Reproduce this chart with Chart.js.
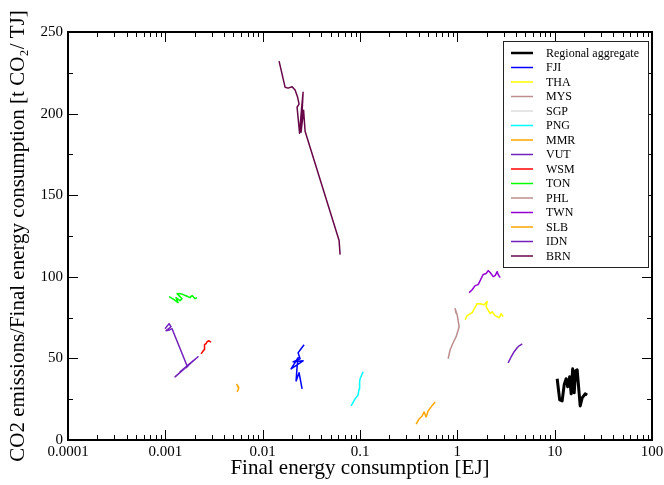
<!DOCTYPE html>
<html><head><meta charset="utf-8">
<script src="https://cdn.jsdelivr.net/npm/chart.js@4"></script>
<style>html,body{margin:0;padding:0;background:#fff}#wrap{width:664px;height:485px}</style>
</head><body><div id="wrap"><canvas id="c" width="664" height="485"></canvas></div>
<script>
// ---- tick labels ----
const xTickValues = [0.0001, 0.001, 0.01, 0.1, 1, 10, 100];
const xTickLabels = ['0.0001', '0.001', '0.01', '0.1', '1', '10', '100'];
const yTickValues = [0, 50, 100, 150, 200, 250];
const yTickLabels = ['0', '50', '100', '150', '200', '250'];

// ---- series names ----
const seriesNames = ['Regional aggregate', 'FJI', 'THA', 'MYS', 'SGP', 'PNG', 'MMR', 'VUT', 'WSM', 'TON', 'PHL', 'TWN', 'SLB', 'IDN', 'BRN'];

// ---- series values: final energy consumption [EJ] and CO2 intensity [t CO2/TJ] ----
const regionalEJ  = [10.61, 11.26, 11.94, 12.52, 13.12, 13.60, 14.26, 14.77, 15.31, 15.87, 16.44, 17.03, 18.29, 19.17, 20.58, 21.58];
const regionalCO2 = [37.5, 24.6, 24.0, 33.8, 37.5, 32.6, 38.7, 28.3, 43.6, 28.9, 42.4, 43.0, 20.9, 25.8, 28.3, 27.6];

const fjiEJ  = [0.02664, 0.02481, 0.02311, 0.02423, 0.02053, 0.02602, 0.01958, 0.02311, 0.02257, 0.02205, 0.02366, 0.02541];
const fjiCO2 = [58.4, 55.9, 53.4, 49.8, 47.9, 48.5, 43.6, 50.4, 44.8, 36.2, 41.2, 31.3];

const thaEJ  = [1.203, 1.261, 1.420, 1.598, 1.715, 1.886, 2.025, 1.977, 2.174, 2.279, 2.446, 2.690, 2.820, 2.956];
const thaCO2 = [73.7, 76.2, 78.0, 83.5, 83.5, 82.9, 84.8, 81.7, 77.4, 78.6, 76.2, 74.9, 77.4, 75.6];

const mysEJ  = [];
const mysCO2 = [];

const sgpEJ  = [];
const sgpCO2 = [];

const pngEJ  = [0.0810, 0.0890, 0.0956, 0.0979, 0.0991, 0.1002, 0.1076];
const pngCO2 = [20.9, 25.2, 27.6, 31.3, 35.6, 37.5, 41.8];

const mmrEJ  = [0.3773, 0.4049, 0.4347, 0.4558, 0.4779, 0.5010, 0.5379, 0.5913];
const mmrCO2 = [9.8, 12.9, 14.7, 17.2, 14.1, 17.8, 20.3, 23.3];

const vutEJ  = [0.000993, 0.001092, 0.001145, 0.001017, 0.001118, 0.001172, 0.001670, 0.002168, 0.001258, 0.001927, 0.001416, 0.001794, 0.001632];
const vutCO2 = [68.2, 71.3, 69.4, 67.0, 67.6, 68.2, 45.5, 51.0, 38.7, 48.5, 41.8, 46.7, 44.2];

const wsmEJ  = [0.002328, 0.002498, 0.002528, 0.002620, 0.002683, 0.002812, 0.002949];
const wsmCO2 = [52.8, 55.3, 58.4, 59.0, 60.2, 60.8, 59.9];

const tonEJ  = [0.001092, 0.001229, 0.001351, 0.001288, 0.001416, 0.001485, 0.001319, 0.001485, 0.001670, 0.001794, 0.001880, 0.002020, 0.002117];
const tonCO2 = [87.8, 86.0, 84.2, 87.2, 85.4, 86.6, 89.7, 89.4, 88.1, 87.2, 88.5, 86.6, 87.2];

const phlEJ  = [0.8043, 0.8433, 0.9054, 0.9721, 1.0435, 1.019, 0.9954, 0.9493, 0.9721];
const phlCO2 = [49.8, 55.3, 59.6, 63.3, 69.4, 73.1, 76.8, 80.5, 77.4];

const twnEJ  = [1.322, 1.420, 1.524, 1.636, 1.715, 1.842, 1.977, 2.073, 2.174, 2.334, 2.446, 2.565, 2.626, 2.754];
const twnCO2 = [90.3, 92.1, 94.6, 95.2, 97.7, 101.4, 102.0, 103.8, 102.6, 100.1, 100.7, 103.2, 101.4, 99.5];

const slbEJ  = [0.005392, 0.005587, 0.005653, 0.005456];
const slbCO2 = [34.4, 32.6, 31.3, 29.5];

const idnEJ  = [3.327, 3.573, 3.836, 4.117, 4.317, 4.526, 4.634];
const idnCO2 = [47.3, 51.0, 54.1, 56.5, 57.7, 58.4, 59.0];

const brnEJ  = [0.01474, 0.01699, 0.01825, 0.02006, 0.02153, 0.02284, 0.02366, 0.02257, 0.02394, 0.02511, 0.02602, 0.02481, 0.02633, 0.02728, 0.06098, 0.06245];
const brnCO2 = [232.2, 216.2, 215.6, 216.5, 214.4, 210.1, 205.8, 203.9, 188.0, 203.3, 213.1, 188.6, 202.1, 189.2, 122.2, 113.6];

// ---- styles ----
const seriesColors = ['#000000', '#0000ff', '#ffff00', '#bc8f8f', '#dcdcdc', '#00ffff', '#ffa500', '#7221bc', '#ff0000', '#00ff00', '#bc8f8f', '#9400d3', '#ffa500', '#7221bc', '#670748'];
const seriesWidths = [3, 1.5, 1.5, 1.5, 1.5, 1.5, 1.5, 1.5, 1.5, 1.5, 1.5, 1.5, 1.5, 1.5, 1.5];

const xs = [regionalEJ, fjiEJ, thaEJ, mysEJ, sgpEJ, pngEJ, mmrEJ, vutEJ, wsmEJ, tonEJ, phlEJ, twnEJ, slbEJ, idnEJ, brnEJ];
const ys = [regionalCO2, fjiCO2, thaCO2, mysCO2, sgpCO2, pngCO2, mmrCO2, vutCO2, wsmCO2, tonCO2, phlCO2, twnCO2, slbCO2, idnCO2, brnCO2];

const datasets = seriesNames.map((name, i) => ({
  label: name,
  data: xs[i].map((x, j) => ({ x: x, y: ys[i][j] })),
  borderColor: seriesColors[i],
  backgroundColor: seriesColors[i],
  borderWidth: seriesWidths[i],
  showLine: true,
  pointRadius: 0,
  tension: 0,
  fill: false,
  borderJoinStyle: 'round'
}));

const serif = "'Liberation Serif', 'Times New Roman', serif";

const framePlugin = {
  id: 'frameTicks',
  afterDraw(chart) {
    const ctx = chart.ctx;
    const ca = chart.chartArea;
    const xs_ = chart.scales.x, ys_ = chart.scales.y;
    ctx.save();
    ctx.strokeStyle = '#000';
    ctx.lineWidth = 1;
    ctx.beginPath();
    for (let e = -4; e <= 2; e++) {
      for (let m = 1; m <= 9; m++) {
        if (e === 2 && m > 1) break;
        const v = m * Math.pow(10, e);
        const px = Math.round(xs_.getPixelForValue(v)) + 0.5;
        const len = m === 1 ? 10 : 5;
        ctx.moveTo(px, ca.bottom); ctx.lineTo(px, ca.bottom - len);
        ctx.moveTo(px, ca.top); ctx.lineTo(px, ca.top + len);
      }
    }
    for (let v = 0; v <= 250; v += 25) {
      const py = Math.round(ys_.getPixelForValue(v)) + 0.5;
      const len = v % 50 === 0 ? 10 : 5;
      ctx.moveTo(ca.left, py); ctx.lineTo(ca.left + len, py);
      ctx.moveTo(ca.right, py); ctx.lineTo(ca.right - len, py);
    }
    ctx.stroke();
    ctx.lineWidth = 2;
    ctx.strokeRect(ca.left, ca.top, ca.right - ca.left, ca.bottom - ca.top);

    // legend box
    const bx = 503, by = 41, bw = 145, bh = 226;
    ctx.fillStyle = '#fff';
    ctx.fillRect(bx, by, bw, bh);
    ctx.lineWidth = 1;
    ctx.strokeStyle = '#222';
    ctx.strokeRect(bx + 0.5, by + 0.5, bw, bh);
    ctx.font = '12px ' + serif;
    ctx.textBaseline = 'middle';
    ctx.textAlign = 'left';
    chart.data.datasets.forEach((ds, i) => {
      const yy = 53 + i * 14.5;
      ctx.strokeStyle = ds.borderColor;
      ctx.lineWidth = i === 0 ? 2.5 : 1.5;
      ctx.beginPath();
      ctx.moveTo(511, yy); ctx.lineTo(533, yy);
      ctx.stroke();
      ctx.fillStyle = '#000';
      ctx.fillText(ds.label, 546, yy + 0.5);
    });
    ctx.restore();
  }
};

new Chart(document.getElementById('c'), {
  type: 'scatter',
  data: { datasets: datasets },
  plugins: [framePlugin],
  options: {
    responsive: false,
    animation: false,
    layout: { padding: { top: 32, right: 12, bottom: 0, left: 0 } },
    plugins: { legend: { display: false }, tooltip: { enabled: false } },
    scales: {
      x: {
        type: 'logarithmic',
        position: 'bottom',
        min: 0.0001, max: 100,
        grid: { display: false, drawTicks: false, tickLength: 0 },
        border: { display: false },
        afterBuildTicks: s => { s.ticks = xTickValues.map(v => ({ value: v })); },
        ticks: {
          autoSkip: false, maxRotation: 0, padding: 3, color: '#000',
          font: { family: serif, size: 15 },
          callback: v => { const i = xTickValues.findIndex(t => Math.abs(Math.log10(t) - Math.log10(v)) < 1e-6); return i >= 0 ? xTickLabels[i] : ''; }
        },
        title: { display: true, text: 'Final energy consumption [EJ]', color: '#000', font: { family: serif, size: 21 }, padding: { top: 0, bottom: 4 } },
        afterFit: s => { s.height = 45; s.paddingLeft = 0; s.paddingRight = 0; }
      },
      y: {
        type: 'linear',
        min: 0, max: 250,
        grid: { display: false, drawTicks: false, tickLength: 0 },
        border: { display: false },
        afterBuildTicks: s => { s.ticks = yTickValues.map(v => ({ value: v })); },
        ticks: {
          padding: 5, color: '#000',
          font: { family: serif, size: 15 },
          callback: v => { const i = yTickValues.indexOf(v); return i >= 0 ? yTickLabels[i] : ''; }
        },
        title: { display: true, text: 'CO2 emissions/Final energy consumption [t CO\u2082/ TJ]', color: '#000', font: { family: serif, size: 21 }, padding: { top: 6, bottom: 0 } },
        afterFit: s => { s.width = 68; s.paddingTop = 0; s.paddingBottom = 0; }
      }
    }
  }
});
</script></body></html>
